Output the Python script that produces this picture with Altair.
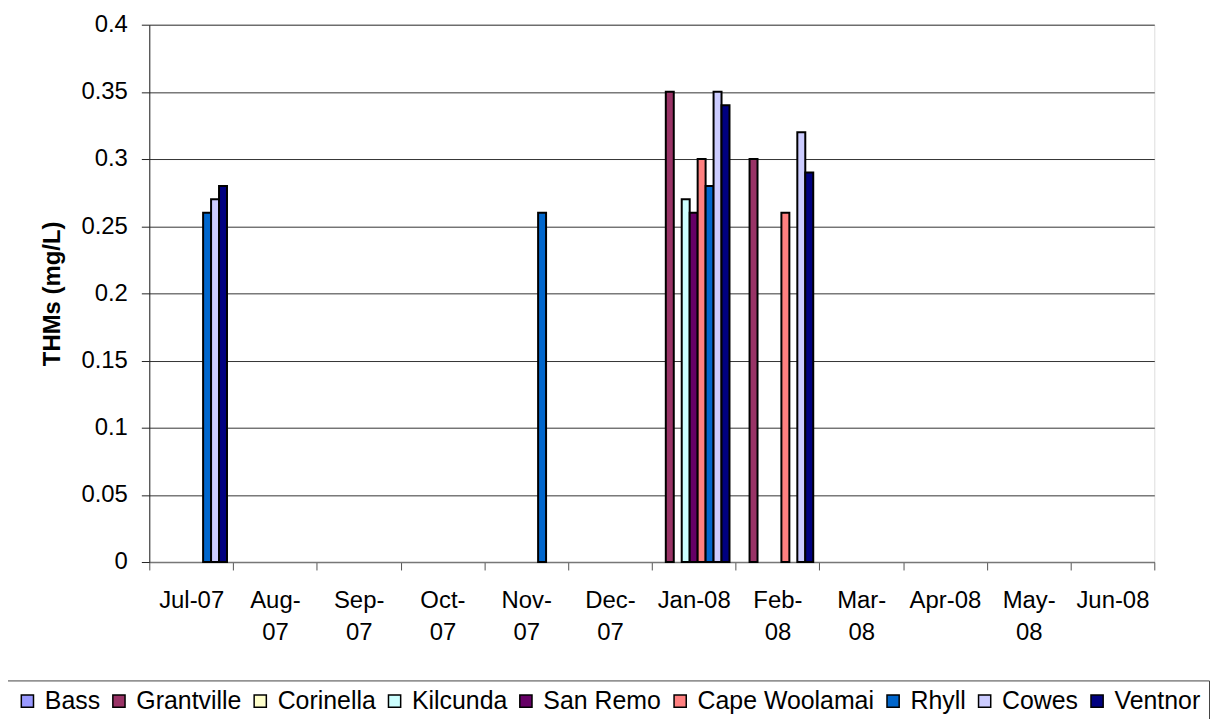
import altair as alt
import pandas as pd
import json

months = ["Jul-07", "Aug-07", "Sep-07", "Oct-07", "Nov-07", "Dec-07",
          "Jan-08", "Feb-08", "Mar-08", "Apr-08", "May-08", "Jun-08"]
tick_labels = [["Jul-07"], ["Aug-", "07"], ["Sep-", "07"], ["Oct-", "07"],
               ["Nov-", "07"], ["Dec-", "07"], ["Jan-08"], ["Feb-", "08"],
               ["Mar-", "08"], ["Apr-08"], ["May-", "08"], ["Jun-08"]]

series = ["Bass", "Grantville", "Corinella", "Kilcunda", "San Remo",
          "Cape Woolamai", "Rhyll", "Cowes", "Ventnor"]
colors = ["#9999FF", "#993366", "#FFFFCC", "#CCFFFF", "#660066",
          "#FF8080", "#0066CC", "#CCCCFF", "#000080"]

N = None
bass          = [N, N, N, N, N, N, N, N, N, N, N, N]
grantville    = [N, N, N, N, N, N, 0.35, 0.30, N, N, N, N]
corinella     = [N, N, N, N, N, N, N, N, N, N, N, N]
kilcunda      = [N, N, N, N, N, N, 0.27, N, N, N, N, N]
san_remo      = [N, N, N, N, N, N, 0.26, N, N, N, N, N]
cape_woolamai = [N, N, N, N, N, N, 0.30, 0.26, N, N, N, N]
rhyll         = [0.26, N, N, N, 0.26, N, 0.28, N, N, N, N, N]
cowes         = [0.27, N, N, N, N, N, 0.35, 0.32, N, N, N, N]
ventnor       = [0.28, N, N, N, N, N, 0.34, 0.29, N, N, N, N]

y_ticks = [0, 0.05, 0.1, 0.15, 0.2, 0.25, 0.3, 0.35, 0.4]

values = [bass, grantville, corinella, kilcunda, san_remo,
          cape_woolamai, rhyll, cowes, ventnor]
rows = []
for s, vals in zip(series, values):
    for m, v in zip(months, vals):
        if v is not None:
            rows.append({"month": m, "series": s, "value": v})
df = pd.DataFrame(rows)

label_expr = f"{json.dumps(tick_labels)}[indexof({json.dumps(months)}, datum.label)]"

FONT = "Liberation Sans"

chart = alt.Chart(df).mark_bar(stroke="black", strokeWidth=2).encode(
    x=alt.X("month:N",
            scale=alt.Scale(domain=months, paddingInner=0, paddingOuter=0),
            axis=alt.Axis(title=None, labelAngle=0, tickBand="extent",
                          tickSize=8, labelPadding=19, labelLineHeight=32,
                          labelExpr=label_expr, labelFontSize=24,
                          labelFont=FONT, labelColor="black",
                          domainColor="#777", domainWidth=1.5,
                          tickColor="#555", labelBaseline="top")),
    xOffset=alt.XOffset("series:N",
                        scale=alt.Scale(domain=series, paddingOuter=0.76,
                                        paddingInner=0)),
    y=alt.Y("value:Q",
            scale=alt.Scale(domain=[0, 0.4], nice=False),
            axis=alt.Axis(title="THMs (mg/L)", values=y_ticks, format="~g",
                          tickSize=8, labelPadding=14, labelFontSize=24,
                          labelFont=FONT, labelColor="black",
                          titleFont=FONT, titleFontSize=24, titleFontWeight="bold",
                          titleColor="black", titleX=-97, titleY=270,
                          titleAngle=270, titleAlign="center",
                          titleBaseline="middle",
                          grid=True, gridColor="#333", gridWidth=1,
                          domainColor="#222", tickColor="#222")),
    color=alt.Color("series:N",
                    scale=alt.Scale(domain=series, range=colors),
                    legend=alt.Legend(title=None, orient="none",
                                      legendX=-143, legendY=659,
                                      direction="horizontal", columns=9,
                                      strokeColor="#444", fillColor="white",
                                      padding=8, cornerRadius=0,
                                      symbolType="square", symbolSize=150,
                                      symbolStrokeColor="black",
                                      symbolStrokeWidth=1.5, symbolOpacity=1,
                                      labelFontSize=25, labelFont=FONT,
                                      labelColor="black", labelOffset=5,
                                      labelLimit=400, columnPadding=6)),
).properties(
    width=1010,
    height=540,
    autosize=alt.AutoSizeParams(type="none"),
    padding={"left": 142, "top": 15, "right": 58, "bottom": 160},
).configure_view(stroke=None).configure(background="white")

chart.save("out.html", embed_options={"renderer": "svg", "actions": False})
